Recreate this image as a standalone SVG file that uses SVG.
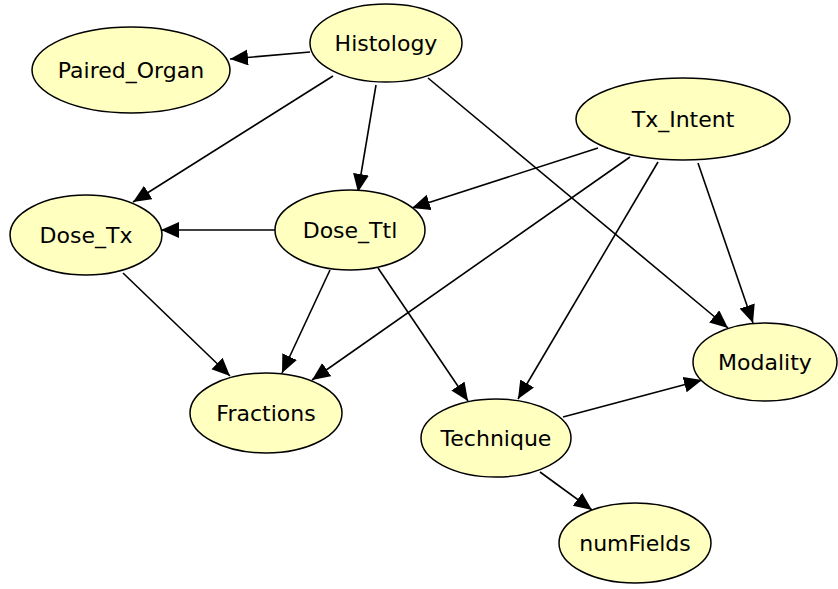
<svg xmlns="http://www.w3.org/2000/svg" width="838" height="589" viewBox="0 0 838 589">
<defs>
<marker id="arr" markerUnits="userSpaceOnUse" markerWidth="20" markerHeight="18" refX="18" refY="8" orient="auto">
<path d="M0,0 L18,8 L0,16 z" fill="#000"/>
</marker>
<style>
.n ellipse{fill:#ffffc0;stroke:#000;stroke-width:1.5}
.n text{font-family:"DejaVu Sans",Verdana,sans-serif;font-size:22px;fill:#000;text-anchor:middle}
#edges line{stroke:#000;stroke-width:1.6;marker-end:url(#arr)}
</style>
</defs>
<rect width="838" height="589" fill="#fff"/>
<g id="edges">
<line x1="310" y1="52" x2="230" y2="59"/>
<line x1="333" y1="76" x2="133" y2="202"/>
<line x1="376" y1="85" x2="358" y2="192"/>
<line x1="428" y1="78" x2="728" y2="328"/>
<line x1="275" y1="230" x2="161" y2="230"/>
<line x1="598" y1="148" x2="412" y2="208"/>
<line x1="630" y1="157" x2="312" y2="380"/>
<line x1="658" y1="162" x2="518" y2="399"/>
<line x1="698" y1="163" x2="753" y2="323"/>
<line x1="123" y1="273" x2="230" y2="376"/>
<line x1="330" y1="270" x2="282" y2="373"/>
<line x1="378" y1="268" x2="468" y2="401"/>
<line x1="563" y1="417" x2="702" y2="380"/>
<line x1="540" y1="472" x2="592" y2="510"/>
</g>
<g id="Histology" class="n"><ellipse cx="386" cy="43" rx="76" ry="39"/><text x="386" y="51">Histology</text></g>
<g id="Paired_Organ" class="n"><ellipse cx="131" cy="70" rx="99" ry="43"/><text x="131" y="78">Paired_Organ</text></g>
<g id="Tx_Intent" class="n"><ellipse cx="683" cy="119" rx="107" ry="41"/><text x="683" y="127">Tx_Intent</text></g>
<g id="Dose_Tx" class="n"><ellipse cx="86" cy="235" rx="76" ry="40"/><text x="86" y="243">Dose_Tx</text></g>
<g id="Dose_Ttl" class="n"><ellipse cx="350" cy="230" rx="75" ry="40"/><text x="350" y="238">Dose_Ttl</text></g>
<g id="Modality" class="n"><ellipse cx="765" cy="362" rx="72" ry="39"/><text x="765" y="370">Modality</text></g>
<g id="Fractions" class="n"><ellipse cx="266" cy="413" rx="76" ry="40"/><text x="266" y="421">Fractions</text></g>
<g id="Technique" class="n"><ellipse cx="496" cy="438" rx="75" ry="39"/><text x="496" y="446">Technique</text></g>
<g id="numFields" class="n"><ellipse cx="635" cy="543" rx="76" ry="40"/><text x="635" y="551">numFields</text></g>
</svg>
